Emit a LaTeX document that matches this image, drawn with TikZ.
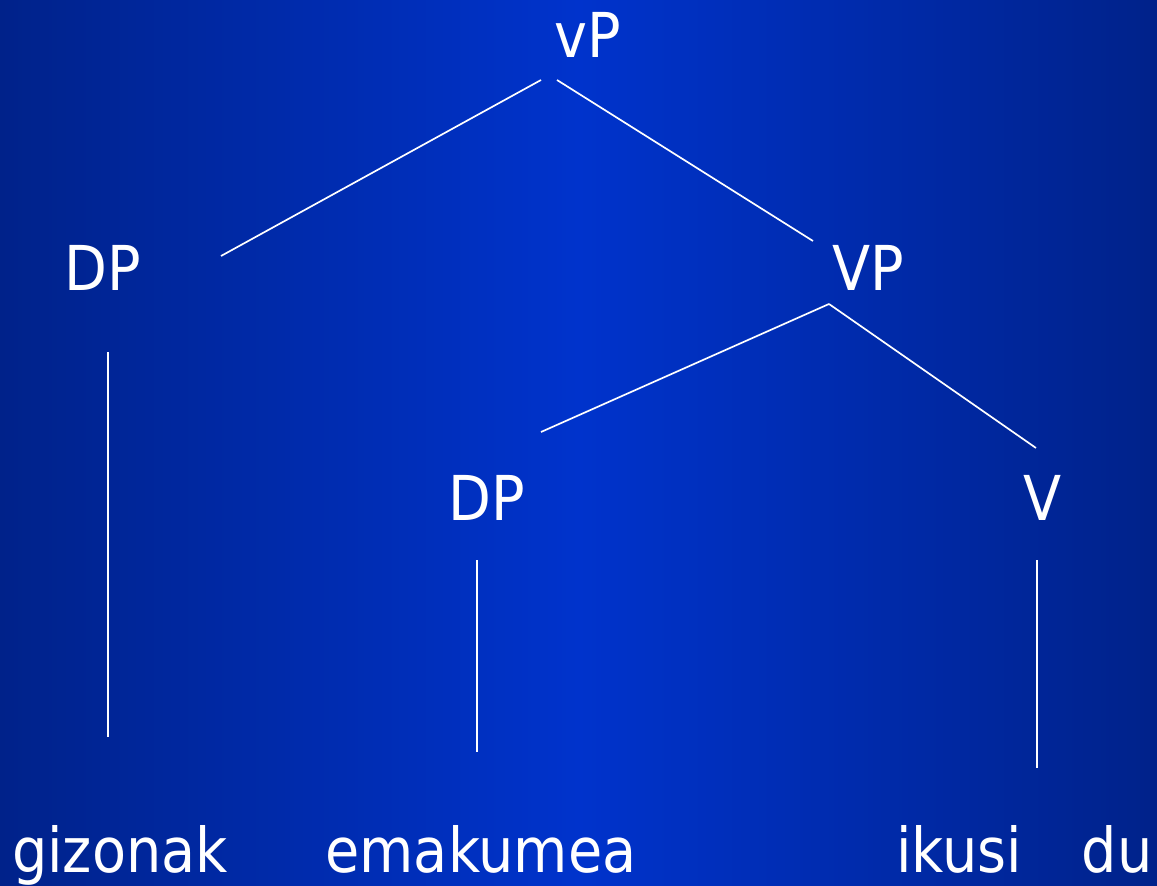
\documentclass[tikz,border=0pt]{standalone}
\usepackage{fontspec}
\setmainfont{DejaVu Sans}[FakeStretch=0.9]
\definecolor{edgeBlue}{HTML}{00228A}
\definecolor{midBlue}{HTML}{0033CC}
\begin{document}
\begin{tikzpicture}[x=0.025cm,y=-0.025cm,%
  label/.style={anchor=base,text=white,inner sep=0pt,font=\fontsize{44}{50}\selectfont},%
  branch/.style={draw=white,line width=1.2pt}]%
%
\useasboundingbox (0,0) rectangle (1157,886);%
\shade[left color=edgeBlue,right color=edgeBlue,middle color=midBlue] (0,0) rectangle (1157,886);%
%
% categories
\node[label] (vP) at (588,58) {vP};%
\node[label] (DPa) at (103,290) {DP};%
\node[label] (VP) at (868,290) {VP};%
\node[label] (DPb) at (487,520) {DP};%
\node[label] (V) at (1043,520) {V};%
%
% words
\node[label] (gizonak) at (120,872) {gizonak};%
\node[label] (emakumea) at (481,872) {emakumea};%
\node[label] (ikusi) at (959,872) {ikusi};%
\node[label] (du) at (1117,872) {du};%
%
% branch ends
\coordinate (vP-l) at (541,80);%
\coordinate (vP-r) at (557,80);%
\coordinate (DPa-t) at (221,256);%
\coordinate (VP-t) at (813,241);%
\coordinate (DPa-b) at (108,352);%
\coordinate (gizonak-t) at (108,737);%
\coordinate (VP-b) at (829,304);%
\coordinate (DPb-t) at (541,432);%
\coordinate (V-t) at (1036,448);%
\coordinate (DPb-b) at (477,560);%
\coordinate (emakumea-t) at (477,752);%
\coordinate (V-b) at (1037,560);%
\coordinate (ikusi-t) at (1037,768);%
%
\draw[branch] (vP-l) -- (DPa-t);%
\draw[branch] (vP-r) -- (VP-t);%
\draw[branch] (DPa-b) -- (gizonak-t);%
\draw[branch] (VP-b) -- (DPb-t);%
\draw[branch] (VP-b) -- (V-t);%
\draw[branch] (DPb-b) -- (emakumea-t);%
\draw[branch] (V-b) -- (ikusi-t);%
%
\end{tikzpicture}
\end{document}
